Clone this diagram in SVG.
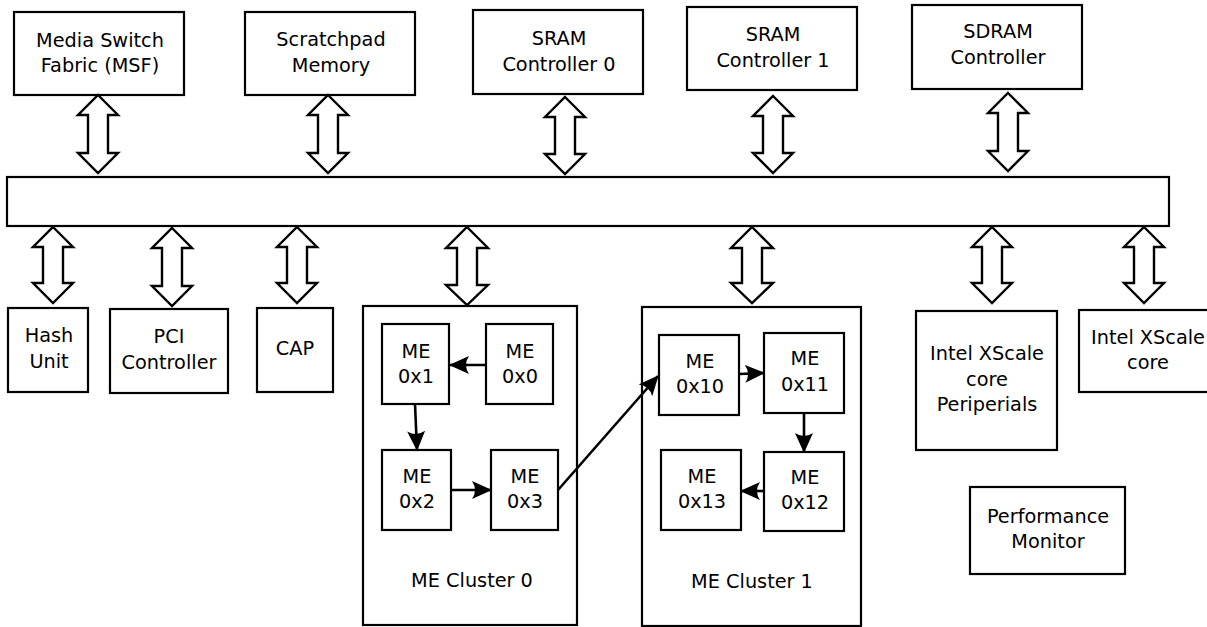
<svg xmlns="http://www.w3.org/2000/svg" width="1207" height="627" viewBox="0 0 1207 627">
  <defs>
    <style>
      .box { fill: #ffffff; stroke: #000000; stroke-width: 2.2; }
      .bus { fill: #ffffff; stroke: #000000; stroke-width: 2.2; }
      .dbl { fill: #ffffff; stroke: #000000; stroke-width: 2.4; stroke-linejoin: miter; }
      .lbl { font-family: "DejaVu Sans", "Bitstream Vera Sans", sans-serif; font-size: 19.3px; fill: #000000; text-anchor: middle; }
      .link { fill: none; stroke: #000000; stroke-width: 2.6; marker-end: url(#head); }
    </style>
    <marker id="head" viewBox="0 0 20 18" refX="19" refY="9" markerWidth="20" markerHeight="18" markerUnits="userSpaceOnUse" orient="auto">
      <path d="M0,0 L20,9 L0,18 Q6,9 0,0 Z" fill="#000000"/>
    </marker>
  </defs>
  <rect width="1207" height="627" fill="#ffffff"/>

  <!-- internal bus -->
  <g id="bus">
    <rect class="bus" x="7" y="177" width="1162" height="49"/>
  </g>

  <!-- top row units -->
  <g id="msf">
    <rect class="box" x="14" y="12" width="170" height="83"/>
    <text class="lbl" x="100" y="47">Media Switch</text>
    <text class="lbl" x="100" y="72">Fabric (MSF)</text>
  </g>
  <g id="scratchpad">
    <rect class="box" x="245" y="12" width="170" height="83"/>
    <text class="lbl" x="331" y="46">Scratchpad</text>
    <text class="lbl" x="331" y="72">Memory</text>
  </g>
  <g id="sram0">
    <rect class="box" x="473" y="10" width="170" height="84"/>
    <text class="lbl" x="559" y="45">SRAM</text>
    <text class="lbl" x="559" y="71">Controller 0</text>
  </g>
  <g id="sram1">
    <rect class="box" x="687" y="7" width="170" height="83"/>
    <text class="lbl" x="773" y="41">SRAM</text>
    <text class="lbl" x="773" y="67">Controller 1</text>
  </g>
  <g id="sdram">
    <rect class="box" x="912" y="5" width="170" height="84"/>
    <text class="lbl" x="998" y="38">SDRAM</text>
    <text class="lbl" x="998" y="64">Controller</text>
  </g>

  <!-- bottom row units -->
  <g id="hash">
    <rect class="box" x="8" y="308" width="80" height="84"/>
    <text class="lbl" x="49" y="342">Hash</text>
    <text class="lbl" x="49" y="368">Unit</text>
  </g>
  <g id="pci">
    <rect class="box" x="110" y="309" width="118" height="84"/>
    <text class="lbl" x="169" y="343">PCI</text>
    <text class="lbl" x="169" y="369">Controller</text>
  </g>
  <g id="cap">
    <rect class="box" x="257" y="308" width="76" height="84"/>
    <text class="lbl" x="295" y="355">CAP</text>
  </g>

  <g id="cluster0">
    <rect class="box" x="363" y="306" width="214" height="319"/>
    <text class="lbl" x="472" y="587">ME Cluster 0</text>
  </g>
  <g id="me0x1">
    <rect class="box" x="382" y="324" width="67" height="80"/>
    <text class="lbl" x="416" y="358">ME</text>
    <text class="lbl" x="416" y="383">0x1</text>
  </g>
  <g id="me0x0">
    <rect class="box" x="486" y="324" width="67" height="80"/>
    <text class="lbl" x="520" y="358">ME</text>
    <text class="lbl" x="520" y="383">0x0</text>
  </g>
  <g id="me0x2">
    <rect class="box" x="382" y="450" width="69" height="80"/>
    <text class="lbl" x="417" y="483">ME</text>
    <text class="lbl" x="417" y="508">0x2</text>
  </g>
  <g id="me0x3">
    <rect class="box" x="491" y="450" width="67" height="80"/>
    <text class="lbl" x="525" y="483">ME</text>
    <text class="lbl" x="525" y="508">0x3</text>
  </g>

  <g id="cluster1">
    <rect class="box" x="642" y="307" width="219" height="319"/>
    <text class="lbl" x="752" y="588">ME Cluster 1</text>
  </g>
  <g id="me0x10">
    <rect class="box" x="659" y="335" width="80" height="80"/>
    <text class="lbl" x="700" y="368">ME</text>
    <text class="lbl" x="700" y="393">0x10</text>
  </g>
  <g id="me0x11">
    <rect class="box" x="764" y="333" width="80" height="80"/>
    <text class="lbl" x="805" y="365">ME</text>
    <text class="lbl" x="805" y="391">0x11</text>
  </g>
  <g id="me0x13">
    <rect class="box" x="661" y="450" width="80" height="80"/>
    <text class="lbl" x="702" y="483">ME</text>
    <text class="lbl" x="702" y="508">0x13</text>
  </g>
  <g id="me0x12">
    <rect class="box" x="764" y="452" width="80" height="79"/>
    <text class="lbl" x="805" y="484">ME</text>
    <text class="lbl" x="805" y="509">0x12</text>
  </g>

  <g id="xscale-periph">
    <rect class="box" x="916" y="311" width="141" height="139"/>
    <text class="lbl" x="987" y="360">Intel XScale</text>
    <text class="lbl" x="987" y="386">core</text>
    <text class="lbl" x="987" y="411">Periperials</text>
  </g>
  <g id="xscale-core">
    <rect class="box" x="1079" y="310" width="140" height="82"/>
    <text class="lbl" x="1148" y="344">Intel XScale</text>
    <text class="lbl" x="1148" y="369">core</text>
  </g>
  <g id="perfmon">
    <rect class="box" x="970" y="487" width="155" height="87"/>
    <text class="lbl" x="1048" y="523">Performance</text>
    <text class="lbl" x="1048" y="548">Monitor</text>
  </g>

  <!-- connectors: bus double arrows and ME chain -->
  <g id="connectors">
    <path class="dbl" d="M98,95 L118,115 L108,115 L108,153 L118,153 L98,173 L78,153 L88,153 L88,115 L78,115 Z"/>
    <path class="dbl" d="M328,95 L348,115 L338,115 L338,153 L348,153 L328,173 L308,153 L318,153 L318,115 L308,115 Z"/>
    <path class="dbl" d="M565,97 L585,117 L575,117 L575,154 L585,154 L565,174 L545,154 L555,154 L555,117 L545,117 Z"/>
    <path class="dbl" d="M773,96 L793,116 L783,116 L783,153 L793,153 L773,173 L753,153 L763,153 L763,116 L753,116 Z"/>
    <path class="dbl" d="M1008,93 L1028,113 L1018,113 L1018,151 L1028,151 L1008,171 L988,151 L998,151 L998,113 L988,113 Z"/>

    <path class="dbl" d="M53,227 L73,247 L63,247 L63,283 L73,283 L53,303 L33,283 L43,283 L43,247 L33,247 Z"/>
    <path class="dbl" d="M172,228 L192,248 L182,248 L182,286 L192,286 L172,306 L152,286 L162,286 L162,248 L152,248 Z"/>
    <path class="dbl" d="M297,227 L317,247 L307,247 L307,283 L317,283 L297,303 L277,283 L287,283 L287,247 L277,247 Z"/>
    <path class="dbl" d="M467,227 L488,248 L477,248 L477,285 L488,285 L467,305 L446,285 L457,285 L457,248 L446,248 Z"/>
    <path class="dbl" d="M752,227 L773,248 L762,248 L762,283 L773,283 L752,303 L731,283 L742,283 L742,248 L731,248 Z"/>
    <path class="dbl" d="M992,227 L1012,247 L1002,247 L1002,283 L1012,283 L992,303 L972,283 L982,283 L982,247 L972,247 Z"/>
    <path class="dbl" d="M1144,227 L1164,247 L1154,247 L1154,283 L1164,283 L1144,303 L1124,283 L1134,283 L1134,247 L1124,247 Z"/>

    <line class="link" x1="486" y1="365" x2="450" y2="365"/>
    <line class="link" x1="415" y1="404" x2="417" y2="450"/>
    <line class="link" x1="451" y1="490" x2="491" y2="490"/>
    <line class="link" x1="558" y1="490" x2="658" y2="376"/>
    <line class="link" x1="739" y1="374" x2="764" y2="373"/>
    <line class="link" x1="804" y1="413" x2="804" y2="452"/>
    <line class="link" x1="764" y1="491" x2="741" y2="491"/>
  </g>
</svg>
